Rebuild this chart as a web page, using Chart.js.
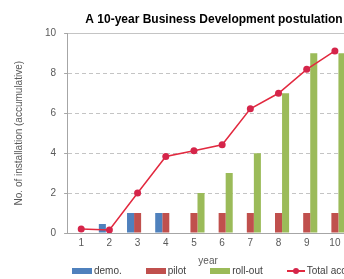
<!DOCTYPE html>
<html>
<head>
<meta charset="utf-8">
<script src="https://cdn.jsdelivr.net/npm/chart.js@4.4.0/dist/chart.umd.min.js"></script>
<style>
  html, body { margin: 0; padding: 0; background: #fff; overflow: hidden; }
  #wrap { position: relative; width: 344px; height: 279px; overflow: hidden; }
  #box { position: absolute; left: 0; top: 0; width: 428px; height: 279px; }
  #legend {
    position: absolute; left: 72px; top: 264px; height: 14px;
    display: flex; gap: 24px; white-space: nowrap;
    font: 10px "Liberation Sans", Arial, sans-serif; color: #404040; line-height: 14px;
  }
  #legend .item { display: flex; align-items: center; }
  #legend .sw { display: inline-block; width: 20px; height: 6px; margin-right: 2px; }
  #legend .ln { position: relative; display: inline-block; width: 18px; height: 2px; margin-right: 2px; }
  #legend .ln i { position: absolute; left: 6px; top: -2px; width: 6px; height: 6px; border-radius: 50%; }
</style>
</head>
<body>
<div id="wrap">
  <div id="box"><canvas id="devChart" width="428" height="279"></canvas></div>
  <div id="legend"></div>
</div>
<script>
var years = ['1', '2', '3', '4', '5', '6', '7', '8', '9', '10'];
var demo = [0, 0.45, 1, 1, 0, 0, 0, 0, 0, 0];
var pilot = [0, 0, 1, 1, 1, 1, 1, 1, 1, 1];
var rollOut = [0, 0, 0, 0, 2, 3, 4, 7, 9, 9];
var totalAcc = [0.2, 0.15, 2, 3.83, 4.12, 4.42, 6.22, 7, 8.2, 9.12];
var yTicks = [0, 2, 4, 6, 8, 10];

Chart.defaults.font.family = '"Liberation Sans", Arial, sans-serif';
Chart.defaults.font.size = 10;
Chart.defaults.color = '#595959';

var ctx = document.getElementById('devChart').getContext('2d');
var devChart = new Chart(ctx, {
  type: 'bar',
  data: {
    labels: years,
    datasets: [
      { label: 'demo.', data: demo, backgroundColor: '#4f81bd', order: 1,
        categoryPercentage: 0.75, barPercentage: 1 },
      { label: 'pilot', data: pilot, backgroundColor: '#c0504d', order: 1,
        categoryPercentage: 0.75, barPercentage: 1 },
      { label: 'roll-out', data: rollOut, backgroundColor: '#9bbb59', order: 1,
        categoryPercentage: 0.75, barPercentage: 1 },
      { type: 'line', label: 'Total accumulative', data: totalAcc, order: 0,
        borderColor: '#e2293f', borderWidth: 1.5, pointRadius: 3.5,
        pointBackgroundColor: '#d5254a', pointBorderColor: '#d5254a', pointBorderWidth: 0 }
    ]
  },
  options: {
    responsive: false,
    animation: false,
    layout: { padding: { left: 8, right: 8, top: 0, bottom: 12 } },
    plugins: {
      legend: { display: false },
      tooltip: { enabled: false },
      title: {
        display: true,
        text: 'A 10-year Business Development postulation',
        color: '#000',
        font: { size: 12, weight: 'bold' },
        padding: { top: 12, bottom: 7 }
      }
    },
    scales: {
      x: {
        grid: { display: false, drawTicks: false },
        border: { display: true, color: '#a6a6a6' },
        ticks: { padding: 4, color: '#595959' },
        title: { display: true, text: 'year', color: '#595959', padding: { top: 2, bottom: 0 } }
      },
      y: {
        min: 0,
        max: 10,
        afterBuildTicks: function(axis) {
          axis.ticks = yTicks.map(function(v) { return { value: v }; });
        },
        grid: { color: '#c4c4c4', tickColor: '#a6a6a6', tickLength: 3 },
        border: {
          color: '#a6a6a6',
          dash: function(c) {
            return (c.tick && (c.tick.value === 10 || c.tick.value === 0)) ? [] : [4, 3];
          }
        },
        ticks: { padding: 8, color: '#595959' },
        title: { display: true, text: 'No. of installation (accumulative)', color: '#595959',
          padding: { top: 5, bottom: 12 } }
      },
      // empty right-hand space: the original chart continues past the crop
      yRight: {
        position: 'right',
        min: 0,
        max: 10,
        grid: { display: false, drawTicks: false },
        border: { display: false },
        ticks: { display: false },
        afterFit: function(axis) { axis.width = 71; }
      }
    }
  }
});

function buildLegend(chart) {
  var legend = document.getElementById('legend');
  chart.data.datasets.forEach(function(ds) {
    var item = document.createElement('span');
    item.className = 'item';
    var mark = document.createElement('span');
    if (ds.type === 'line') {
      mark.className = 'ln';
      mark.style.background = ds.borderColor;
      var dot = document.createElement('i');
      dot.style.background = ds.pointBackgroundColor;
      mark.appendChild(dot);
    } else {
      mark.className = 'sw';
      mark.style.background = ds.backgroundColor;
    }
    item.appendChild(mark);
    item.appendChild(document.createTextNode(ds.label));
    legend.appendChild(item);
  });
}

buildLegend(devChart);
</script>
</body>
</html>
